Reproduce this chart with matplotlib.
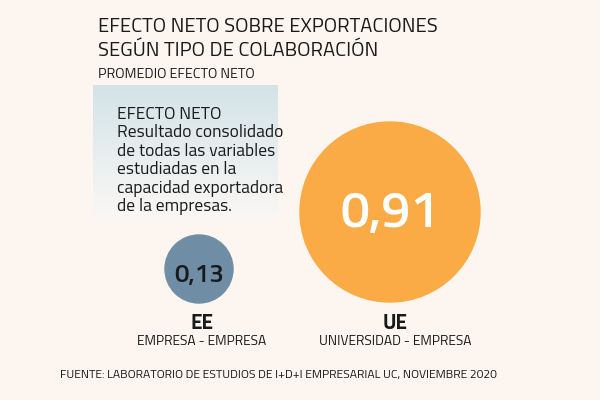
"""Efecto neto sobre exportaciones segun tipo de colaboracion."""

import matplotlib.pyplot as plt
import numpy as np
from matplotlib.patches import Circle

codes = ["EE", "UE"]
names = ["EMPRESA - EMPRESA", "UNIVERSIDAD - EMPRESA"]
values = [0.13, 0.91]
value_labels = ["0,13", "0,91"]

plt.rcParams["font.family"] = ["Titillium Web", "Barlow Semi Condensed", "DejaVu Sans"]

BG = "#fdf5ef"
DARK = "#1a1a1a"

fig = plt.figure(figsize=(6, 4), dpi=100, facecolor=BG)
ax = fig.add_axes([0, 0, 1, 1])
ax.set_xlim(0, 600)
ax.set_ylim(400, 0)
ax.set_aspect("equal")
ax.axis("off")
ax.set_facecolor(BG)

# Title block
ax.text(98, 32, "EFECTO NETO SOBRE EXPORTACIONES", fontsize=14.6, color=DARK, va="baseline")
ax.text(98, 56, "SEGÚN TIPO DE COLABORACIÓN", fontsize=14.6, color=DARK, va="baseline")
ax.text(98, 78, "PROMEDIO EFECTO NETO", fontsize=10.3, color=DARK, va="baseline")

# Info box with vertical gradient
grad = np.linspace(0, 1, 100).reshape(-1, 1)
top = np.array([0.83, 0.89, 0.91])
bot = np.array([0.98, 0.97, 0.96])
img = top + (bot - top) * grad[..., None]
ax.imshow(img, extent=[93, 278, 218, 85], aspect="auto", zorder=1)

box_lines = [
    "EFECTO NETO",
    "Resultado consolidado",
    "de todas las variables",
    "estudiadas en la",
    "capacidad exportadora",
    "de la empresas.",
]
for i, line in enumerate(box_lines):
    ax.text(117, 119 + i * 18.4, line, fontsize=12.5, color=DARK, va="baseline", zorder=2)

# Bubbles, area proportional to value
centers = [(199, 269), (390, 212)]
baselines = [282, 227]
colors = ["#6f8ea5", "#fbab45"]
text_colors = [DARK, "white"]
text_sizes = [18.5, 37]
scale = 90 / np.sqrt(max(values))
for (cx, cy), by, v, lab, c, tc, fs in zip(centers, baselines, values, value_labels,
                                            colors, text_colors, text_sizes):
    r = scale * np.sqrt(v)
    ax.add_patch(Circle((cx, cy), r, color=c, zorder=2))
    ax.text(cx, by, lab, fontsize=fs, fontweight="semibold", color=tc,
            ha="center", va="baseline", zorder=3)

label_x = [202, 395]
for lx, code, name in zip(label_x, codes, names):
    ax.text(lx, 329, code, fontsize=15, fontweight="bold", color=DARK, ha="center", va="baseline")
    ax.text(lx, 345, name, fontsize=9.9, color=DARK, ha="center", va="baseline")

ax.text(60, 378, "FUENTE: LABORATORIO DE ESTUDIOS DE I+D+I EMPRESARIAL UC, NOVIEMBRE 2020",
        fontsize=8.75, color=DARK, va="baseline")

plt.savefig("out.png", dpi=100, facecolor=BG)
plt.close()
